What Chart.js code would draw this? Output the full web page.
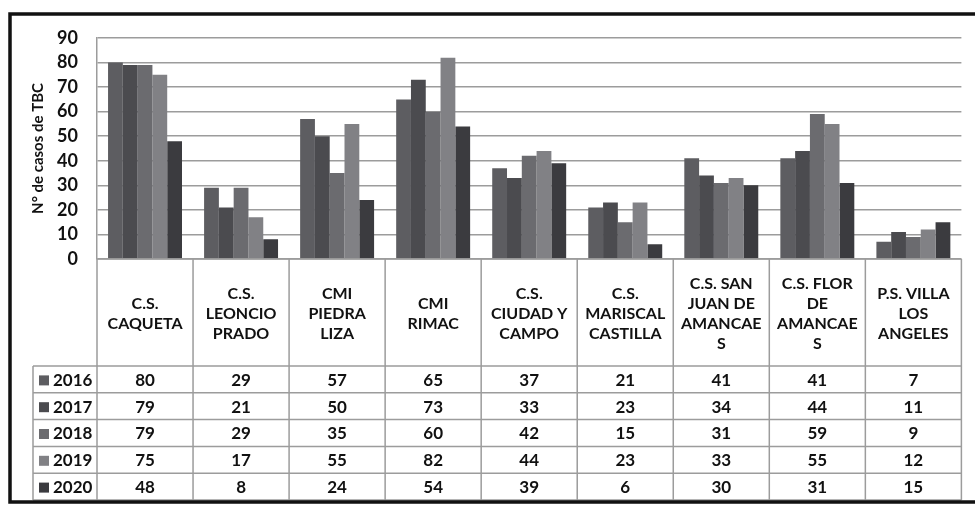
<!DOCTYPE html>
<html>
<head>
<meta charset="utf-8">
<script src="https://cdn.jsdelivr.net/npm/chart.js@4.4.1/dist/chart.umd.min.js"></script>
<style>
  html, body { margin: 0; padding: 0; background: #fff; }
  #wrap { width: 975px; height: 507px; }
</style>
</head>
<body>
<div id="wrap"><canvas id="tbcChart" width="975" height="507"></canvas></div>
<script>
// --- datos ---
const categories = [
    ['C.S.', 'CAQUETA'],
    ['C.S.', 'LEONCIO', 'PRADO'],
    ['CMI', 'PIEDRA', 'LIZA'],
    ['CMI', 'RIMAC'],
    ['C.S.', 'CIUDAD Y', 'CAMPO'],
    ['C.S.', 'MARISCAL', 'CASTILLA'],
    ['C.S. SAN', 'JUAN DE', 'AMANCAE', 'S'],
    ['C.S. FLOR', 'DE', 'AMANCAE', 'S'],
    ['P.S. VILLA', 'LOS', 'ANGELES']
];
const years = ['2016', '2017', '2018', '2019', '2020'];
const casos2016 = [80, 29, 57, 65, 37, 21, 41, 41, 7];
const casos2017 = [79, 21, 50, 73, 33, 23, 34, 44, 11];
const casos2018 = [79, 29, 35, 60, 42, 15, 31, 59, 9];
const casos2019 = [75, 17, 55, 82, 44, 23, 33, 55, 12];
const casos2020 = [48, 8, 24, 54, 39, 6, 30, 31, 15];
const yTicks = [0, 10, 20, 30, 40, 50, 60, 70, 80, 90];

const seriesValues = [casos2016, casos2017, casos2018, casos2019, casos2020];
const colors = ['#5d5d61', '#4b4b4f', '#6b6b6f', '#818185', '#3b3b3f'];

const FONT = 'Lato, "Open Sans", sans-serif';
const gridColor = '#9c9c9c';

// tabla de datos bajo el eje x
const dataTable = {
    id: 'dataTable',
    beforeDraw: (chart) => {
        const { ctx, width, height } = chart;
        ctx.save();
        ctx.fillStyle = '#ffffff';
        ctx.fillRect(0, 0, width, height);
        ctx.restore();
    },
    afterDraw: (chart) => {
        const { ctx, chartArea } = chart;
        const x = chart.scales.x;
        const colW = x.width / categories.length;
        const headBottom = chartArea.bottom + 107;
        const rowH = 26.8;
        const legendLeft = 33;
        const tableBottom = headBottom + rowH * years.length;

        ctx.save();
        ctx.strokeStyle = gridColor;
        ctx.lineWidth = 1.5;

        // horizontales
        ctx.beginPath();
        ctx.moveTo(chartArea.left, chartArea.bottom);
        ctx.lineTo(chartArea.right, chartArea.bottom);
        for (let r = 0; r <= years.length; r++) {
            const y = headBottom + r * rowH;
            ctx.moveTo(legendLeft, y);
            ctx.lineTo(chartArea.right, y);
        }
        // verticales
        for (let i = 0; i <= categories.length; i++) {
            const xx = x.left + i * colW;
            ctx.moveTo(xx, chartArea.bottom);
            ctx.lineTo(xx, tableBottom);
        }
        ctx.moveTo(legendLeft, headBottom);
        ctx.lineTo(legendLeft, tableBottom);
        ctx.stroke();

        // valores
        ctx.fillStyle = '#111';
        ctx.font = 'bold 17px ' + FONT;
        ctx.textAlign = 'center';
        ctx.textBaseline = 'middle';
        seriesValues.forEach((vals, r) => {
            const y = headBottom + r * rowH + rowH / 2 + 1;
            vals.forEach((v, i) => {
                ctx.fillText(String(v), x.getPixelForValue(i), y);
            });
            // leyenda
            ctx.fillStyle = colors[r];
            ctx.fillRect(legendLeft + 6, y - 5, 10, 10);
            ctx.fillStyle = '#111';
            ctx.textAlign = 'left';
            ctx.fillText(years[r], legendLeft + 20, y);
            ctx.textAlign = 'center';
        });

        // marco exterior
        ctx.strokeStyle = '#111';
        ctx.lineWidth = 3.5;
        ctx.strokeRect(10, 14, 990, 488);
        ctx.restore();
    }
};

new Chart(document.getElementById('tbcChart').getContext('2d'), {
    type: 'bar',
    data: {
        labels: categories,
        datasets: years.map((yr, k) => ({
            label: yr,
            data: seriesValues[k],
            backgroundColor: colors[k],
            borderWidth: 0,
            categoryPercentage: 0.77,
            barPercentage: 1.0
        }))
    },
    options: {
        responsive: false,
        animation: false,
        layout: { padding: { top: 38, right: 9, bottom: 0, left: 0 } },
        plugins: {
            legend: { display: false },
            tooltip: { enabled: false }
        },
        scales: {
            x: {
                grid: { display: false, drawTicks: false },
                border: { display: false },
                afterFit: (s) => { s.height = 248; },
                ticks: {
                    color: '#111',
                    font: { family: FONT, size: 16, weight: 'bold', lineHeight: 1.25 },
                    maxRotation: 0,
                    minRotation: 0,
                    autoSkip: false,
                    crossAlign: 'center',
                    padding: 25
                }
            },
            y: {
                min: 0,
                max: 90,
                afterFit: (s) => { s.width = 97; },
                afterBuildTicks: (s) => { s.ticks = yTicks.map(v => ({ value: v })); },
                grid: { color: gridColor, lineWidth: 1.5, drawTicks: false },
                border: { display: true, color: gridColor, width: 1.5 },
                ticks: {
                    color: '#111',
                    padding: 19,
                    autoSkip: false,
                    font: { family: FONT, size: 18, weight: 'bold' }
                },
                title: {
                    display: true,
                    text: 'N° de casos de TBC',
                    color: '#111',
                    font: { family: FONT, size: 15, weight: 'bold', lineHeight: 1.2 },
                    padding: { top: 29, bottom: 0 }
                }
            }
        }
    },
    plugins: [dataTable]
});
</script>
</body>
</html>
